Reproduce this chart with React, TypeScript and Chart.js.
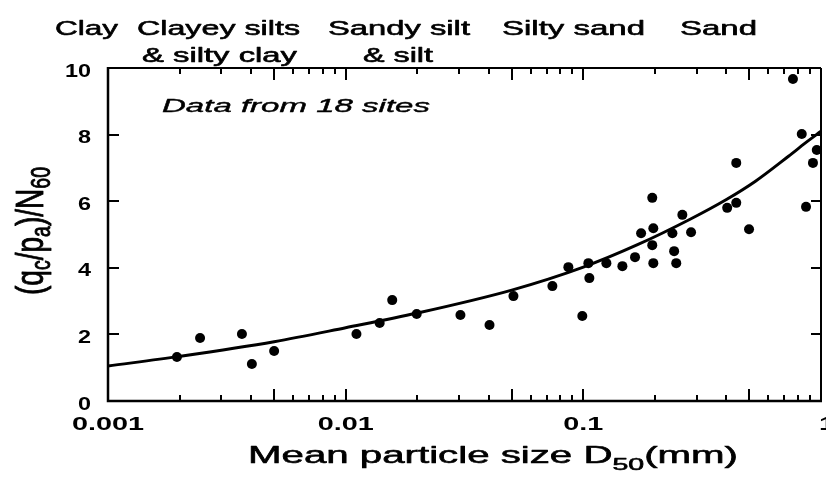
import React, { useEffect, useRef } from 'react';
import { Chart, registerables } from 'chart.js';

Chart.register(...registerables);

// ---- data ----
const SCATTER_X = [0.00195, 0.00244, 0.00366, 0.00403, 0.005, 0.0111, 0.0139, 0.0157, 0.0199, 0.0304, 0.0403, 0.0508, 0.0741, 0.0865, 0.099, 0.105, 0.106, 0.125, 0.146, 0.165, 0.175, 0.197, 0.195, 0.195, 0.197, 0.237, 0.241, 0.246, 0.261, 0.284, 0.403, 0.44, 0.44, 0.498, 0.762, 0.83, 0.865, 0.925, 0.96];
const SCATTER_Y = [1.32, 1.89, 2.01, 1.11, 1.5, 2.01, 2.34, 3.03, 2.61, 2.58, 2.28, 3.15, 3.45, 4.02, 2.55, 4.14, 3.69, 4.14, 4.05, 4.32, 5.04, 5.19, 6.1, 4.68, 4.14, 5.04, 4.5, 4.14, 5.59, 5.07, 5.8, 5.95, 7.15, 5.16, 9.67, 8.02, 5.83, 7.15, 7.54];

const CURVE_X = [0.001, 0.002, 0.005, 0.01, 0.02, 0.05, 0.1, 0.17, 0.28, 0.4, 0.53, 0.73, 0.86, 1];
const CURVE_Y = [1.05, 1.34, 1.78, 2.2, 2.64, 3.33, 4.02, 4.7, 5.45, 6.05, 6.6, 7.35, 7.75, 8.1];

const X_TICKS = [0.001, 0.01, 0.1, 1];
const X_TICK_LABELS = ['0.001', '0.01', '0.1', '1'];
const Y_TICKS = [0, 2, 4, 6, 8, 10];
const Y_TICK_LABELS = ['0', '2', '4', '6', '8', '10'];

const SOIL_LINE1 = ['Clay', 'Clayey silts', 'Sandy silt', 'Silty sand', 'Sand'];
const SOIL_LINE2 = ['', '& silty clay', '& silt', '', ''];
const NOTE = 'Data from 18 sites';

const FONT = '"Liberation Sans", Arial, Helvetica, sans-serif';

// layout of the soil labels (centre x, target width)
const SOIL1_POS = [[86.5, 63], [218.5, 163], [399, 142], [573.5, 143], [718.5, 77]];
const SOIL2_POS = [[0, 0], [219.5, 155], [398, 70], [0, 0], [0, 0]];

const TEXT_STROKE = 0.6;

function paint(ctx: CanvasRenderingContext2D, s: string, x: number, y: number, stroke: number) {
  ctx.fillText(s, x, y);
  if (stroke > 0) {
    ctx.lineWidth = stroke;
    ctx.lineJoin = 'round';
    ctx.strokeText(s, x, y);
  }
}

function fitText(ctx: CanvasRenderingContext2D, s: string, cx: number, y: number, font: string, w: number) {
  ctx.save();
  ctx.font = font;
  const nat = ctx.measureText(s).width;
  const sx = w / nat;
  ctx.translate(cx, y);
  ctx.scale(sx, 1);
  ctx.textAlign = 'center';
  ctx.textBaseline = 'alphabetic';
  paint(ctx, s, 0, 0, TEXT_STROKE);
  ctx.restore();
}

function scaledText(ctx: CanvasRenderingContext2D, s: string, x: number, y: number, font: string, sx: number, align: CanvasTextAlign) {
  ctx.save();
  ctx.font = font;
  ctx.translate(x, y);
  ctx.scale(sx, 1);
  ctx.textAlign = align;
  ctx.textBaseline = 'alphabetic';
  paint(ctx, s, 0, 0, 0);
  ctx.restore();
}

type Seg = { t: string; sub: boolean };

function richText(
  ctx: CanvasRenderingContext2D,
  segs: Seg[],
  mainSize: number,
  subSize: number,
  subOff: number,
  length: number,
  cross: number
) {
  let total = 0;
  const widths: number[] = [];
  for (const s of segs) {
    ctx.font = `${s.sub ? subSize : mainSize}px ${FONT}`;
    const w = ctx.measureText(s.t).width;
    widths.push(w);
    total += w;
  }
  const sx = length / total;
  ctx.save();
  ctx.scale(sx, cross);
  ctx.textAlign = 'left';
  ctx.textBaseline = 'alphabetic';
  let x = -total / 2;
  segs.forEach((s, i) => {
    ctx.font = `${s.sub ? subSize : mainSize}px ${FONT}`;
    paint(ctx, s.t, x, s.sub ? subOff / cross : 0, TEXT_STROKE);
    x += widths[i];
  });
  ctx.restore();
}

const decorPlugin = {
  id: 'decor',
  beforeDraw(chart: any) {
    const ctx = chart.ctx as CanvasRenderingContext2D;
    ctx.save();
    ctx.fillStyle = '#fff';
    ctx.fillRect(0, 0, chart.width, chart.height);
    ctx.restore();
  },
  afterDraw(chart: any) {
    const ctx = chart.ctx as CanvasRenderingContext2D;
    const xs = chart.scales.x;
    const ys = chart.scales.y;
    const a = chart.chartArea;
    ctx.save();
    ctx.strokeStyle = '#000';
    ctx.fillStyle = '#000';
    ctx.lineCap = 'butt';

    // frame
    ctx.lineWidth = 2;
    ctx.beginPath();
    ctx.moveTo(a.left, a.top);
    ctx.lineTo(a.right, a.top);
    ctx.moveTo(a.right, a.top);
    ctx.lineTo(a.right, a.bottom);
    ctx.stroke();
    ctx.lineWidth = 2.5;
    ctx.beginPath();
    ctx.moveTo(a.left, a.top - 1);
    ctx.lineTo(a.left, a.bottom);
    ctx.lineTo(a.right + 1, a.bottom);
    ctx.stroke();

    // x ticks (inward, bottom and top)
    ctx.lineWidth = 2;
    ctx.beginPath();
    for (let d = 0; d < X_TICKS.length - 1; d++) {
      const base = X_TICKS[d];
      for (let m = 1; m <= 9; m++) {
        const v = base * m;
        const px = Math.round(xs.getPixelForValue(v));
        const long = m === 1 || m === 5;
        const len = long ? 12 : 6;
        if (m !== 1 || d > 0) {
          ctx.moveTo(px, a.bottom);
          ctx.lineTo(px, a.bottom - len);
          ctx.moveTo(px, a.top);
          ctx.lineTo(px, a.top + len);
        }
      }
    }
    // y ticks (inward, left and right)
    for (const v of Y_TICKS) {
      if (v === 0 || v === 10) continue;
      const py = Math.round(ys.getPixelForValue(v));
      ctx.moveTo(a.left, py);
      ctx.lineTo(a.left + 11, py);
      ctx.moveTo(a.right, py);
      ctx.lineTo(a.right - 10, py);
    }
    ctx.stroke();

    // tick labels
    X_TICKS.forEach((v, i) => {
      const px = xs.getPixelForValue(v);
      const shift = i === X_TICKS.length - 1 ? 6 : 0;
      scaledText(ctx, X_TICK_LABELS[i], px + shift, a.bottom + 29, `bold 18px ${FONT}`, 1.6, 'center');
    });
    Y_TICKS.forEach((v, i) => {
      const py = ys.getPixelForValue(v);
      scaledText(ctx, Y_TICK_LABELS[i], 91, py + 8.5, `bold 18px ${FONT}`, 1.3, 'right');
    });

    // soil labels
    SOIL_LINE1.forEach((s, i) => {
      fitText(ctx, s, SOIL1_POS[i][0], 35, `21px ${FONT}`, SOIL1_POS[i][1]);
    });
    SOIL_LINE2.forEach((s, i) => {
      if (!s) return;
      fitText(ctx, s, SOIL2_POS[i][0], 62, `20px ${FONT}`, SOIL2_POS[i][1]);
    });

    // note
    ctx.save();
    ctx.font = `italic 19px ${FONT}`;
    const nw = ctx.measureText(NOTE).width;
    ctx.translate(162, 112);
    ctx.scale(268 / nw, 1);
    ctx.textAlign = 'left';
    paint(ctx, NOTE, 0, 0, 0.4);
    ctx.restore();

    // x title
    ctx.save();
    ctx.translate(493, 463);
    richText(
      ctx,
      [
        { t: 'Mean particle size D', sub: false },
        { t: '50', sub: true },
        { t: '(mm)', sub: false },
      ],
      24,
      17,
      7,
      490,
      1
    );
    ctx.restore();

    // y title (rotated)
    ctx.save();
    ctx.translate(43, 231);
    ctx.rotate(-Math.PI / 2);
    richText(
      ctx,
      [
        { t: '(q', sub: false },
        { t: 'c', sub: true },
        { t: '/p', sub: false },
        { t: 'a', sub: true },
        { t: ')/N', sub: false },
        { t: '60', sub: true },
      ],
      26,
      18,
      7,
      128,
      1.5
    );
    ctx.restore();

    ctx.restore();
  },
};

export default function App() {
  const ref = useRef<HTMLCanvasElement | null>(null);
  useEffect(() => {
    document.body.style.margin = '0';
    const canvas = ref.current;
    if (!canvas) return;
    const curve = CURVE_X.map((x, i) => ({ x, y: CURVE_Y[i] }));
    const pts = SCATTER_X.map((x, i) => ({ x, y: SCATTER_Y[i] }));
    const chart = new Chart(canvas, {
      type: 'scatter',
      data: {
        datasets: [
          {
            type: 'line',
            label: 'Fit',
            data: curve,
            borderColor: '#000',
            borderWidth: 3,
            pointRadius: 0,
            fill: false,
            cubicInterpolationMode: 'monotone',
            clip: false,
          } as any,
          {
            type: 'scatter',
            label: 'Data',
            data: pts,
            backgroundColor: '#000',
            borderColor: '#000',
            pointRadius: 5,
            pointBorderWidth: 0,
            clip: false,
          } as any,
        ],
      },
      options: {
        responsive: false,
        maintainAspectRatio: false,
        devicePixelRatio: 1,
        animation: false,
        layout: { padding: { left: 108, right: 3, top: 68, bottom: 76 } },
        plugins: { legend: { display: false }, tooltip: { enabled: false } },
        scales: {
          x: { type: 'logarithmic', min: 0.001, max: 1, display: false },
          y: { type: 'linear', min: 0, max: 10, display: false },
        },
      },
      plugins: [decorPlugin],
    });
    return () => chart.destroy();
  }, []);
  return (
    <div style={{ width: 826, height: 477, background: '#fff' }}>
      <canvas ref={ref} width={826} height={477} style={{ display: 'block' }} />
    </div>
  );
}
